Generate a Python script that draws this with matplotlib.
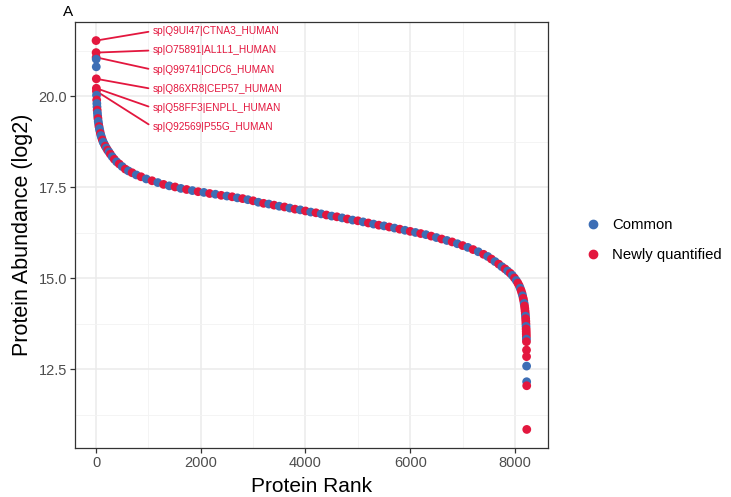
import matplotlib
matplotlib.use("Agg")
import matplotlib.pyplot as plt
from matplotlib.lines import Line2D

plt.rcParams['font.family'] = ['Liberation Sans', 'DejaVu Sans']

# ranked protein abundances (log2)
ranks = [1, 2, 3, 4, 5, 6, 7, 8,
         10, 13, 16, 19, 23, 27, 32, 37, 43, 50,
         57, 65, 74, 84, 95, 108, 122, 138, 156, 176,
         198, 222, 248, 275, 310, 350, 395, 445, 500, 560,
         620, 690, 770, 860, 960, 1070, 1180, 1290, 1400, 1510,
         1620, 1730, 1840, 1950, 2060, 2170, 2280, 2390, 2500, 2600,
         2700, 2800, 2900, 3000, 3100, 3200, 3300, 3400, 3500, 3600,
         3700, 3800, 3900, 4000, 4100, 4200, 4300, 4400, 4500, 4600,
         4700, 4800, 4900, 5000, 5100, 5200, 5300, 5400, 5500, 5600,
         5700, 5800, 5900, 6000, 6100, 6200, 6300, 6400, 6500, 6600,
         6700, 6800, 6900, 7000, 7100, 7200, 7300, 7400, 7480, 7550,
         7620, 7690, 7750, 7810, 7860, 7910, 7950, 7990, 8025, 8055,
         8080, 8100, 8118, 8133, 8146, 8157, 8167, 8175, 8182, 8188,
         8193, 8197, 8201, 8204, 8207, 8209, 8211, 8213, 8215, 8216,
         8217, 8218, 8219, 8220, 8221, 8222, 8223, 8224, 8225]
abundance = [21.53, 21.20, 21.07, 21.02, 20.81, 20.48, 20.22, 20.14,
             20.03, 19.90, 19.80, 19.71, 19.62, 19.54, 19.46, 19.39, 19.31, 19.24,
             19.17, 19.11, 19.05, 18.98, 18.92, 18.86, 18.80, 18.74, 18.69, 18.63,
             18.58, 18.52, 18.47, 18.41, 18.34, 18.27, 18.20, 18.14, 18.07, 18.00,
             17.95, 17.90, 17.84, 17.79, 17.73, 17.68, 17.63, 17.58, 17.54, 17.51,
             17.47, 17.44, 17.41, 17.38, 17.36, 17.33, 17.31, 17.28, 17.26, 17.24,
             17.21, 17.19, 17.16, 17.13, 17.09, 17.06, 17.04, 17.01, 16.98, 16.96,
             16.93, 16.90, 16.88, 16.85, 16.82, 16.80, 16.77, 16.74, 16.71, 16.69,
             16.66, 16.63, 16.60, 16.58, 16.55, 16.52, 16.49, 16.46, 16.44, 16.41,
             16.38, 16.35, 16.32, 16.29, 16.26, 16.23, 16.20, 16.16, 16.12, 16.08,
             16.04, 16.00, 15.95, 15.90, 15.85, 15.79, 15.73, 15.66, 15.60, 15.53,
             15.46, 15.39, 15.32, 15.26, 15.20, 15.14, 15.08, 15.01, 14.94, 14.87,
             14.80, 14.73, 14.66, 14.59, 14.52, 14.45, 14.38, 14.31, 14.24, 14.17,
             14.10, 14.03, 13.96, 13.89, 13.82, 13.75, 13.68, 13.61, 13.54, 13.47,
             13.40, 13.33, 13.26, 13.03, 12.85, 12.59, 12.16, 12.05, 10.85]
# C = Common, N = Newly quantified
groups = ("NNNCCNNN"
          "CNCCNCCNCC"
          "NCCNCCNCCN"
          "CNCNCNCNCN"
          "CNCNCNCNCN"
          "CNCNCNCNCN"
          "CNCNCNCNCN"
          "CNCNCNCNCN"
          "CNCNCNCNCN"
          "CNCNCNCNCN"
          "CNCNCNCNCN"
          "CNCNCNCNCN"
          "NCNNCNNCNN"
          "NNCNNNCNNN"
          "NCNNNCCNN")

label_idx = [0, 1, 2, 5, 6, 7]
label_text = ["sp|Q9UI47|CTNA3_HUMAN", "sp|O75891|AL1L1_HUMAN",
              "sp|Q99741|CDC6_HUMAN", "sp|Q86XR8|CEP57_HUMAN",
              "sp|Q58FF3|ENPLL_HUMAN", "sp|Q92569|P55G_HUMAN"]
label_y = [21.79, 21.26, 20.73, 20.20, 19.68, 19.16]

blue = "#3D6EB5"
red = "#E3173E"
col = {"C": blue, "N": red}

fig = plt.figure(figsize=(7.31, 4.97), dpi=100)
ax = fig.add_axes([0.1026, 0.0986, 0.6471, 0.8571])

# label segments first so points sit on top
for i, txt, ly in zip(label_idx, label_text, label_y):
    ax.annotate(txt, xy=(ranks[i], abundance[i]), xytext=(1080, ly),
                fontsize=7.3, color=red, ha='left', va='center',
                arrowprops=dict(arrowstyle='-', color=red, lw=1.3,
                                shrinkA=1, shrinkB=0, relpos=(0, 0.5)),
                zorder=2)

ax.scatter(ranks, abundance, s=40, c=[col[g] for g in groups],
           linewidths=0, zorder=3)

ax.set_xlim(-401, 8631)
ax.set_ylim(10.34, 22.04)
ax.set_xticks([0, 2000, 4000, 6000, 8000])
ax.set_xticks([1000, 3000, 5000, 7000], minor=True)
ax.set_yticks([12.5, 15.0, 17.5, 20.0])
ax.set_yticklabels(["12.5", "15.0", "17.5", "20.0"])
ax.set_yticks([11.25, 13.75, 16.25, 18.75, 21.25], minor=True)
ax.grid(which='major', color='#EBEBEB', lw=1.1, zorder=0)
ax.grid(which='minor', color='#F3F3F3', lw=0.6, zorder=0)
ax.set_axisbelow(True)
ax.tick_params(which='major', direction='out', length=3.5, width=0.9,
               color='#333333', labelsize=10.5, labelcolor='#4D4D4D', pad=2)
ax.tick_params(which='minor', length=0)
for s in ax.spines.values():
    s.set_color('#333333')
    s.set_linewidth(0.9)

ax.set_xlabel("Protein Rank", fontsize=15, labelpad=5)
ax.set_ylabel("Protein Abundance (log2)", fontsize=15.5, labelpad=4)

fig.text(0.093, 0.975, "A", fontsize=11, ha='center', va='center')

handles = [Line2D([], [], marker='o', ls='', color=blue, markersize=6, label='Common'),
           Line2D([], [], marker='o', ls='', color=red, markersize=6, label='Newly quantified')]
fig.legend(handles=handles, loc='center left', bbox_to_anchor=(0.783, 0.517),
           frameon=False, fontsize=10.7, handletextpad=0.8, labelspacing=1.1,
           handlelength=1.0)

fig.savefig("out.png", dpi=100)
